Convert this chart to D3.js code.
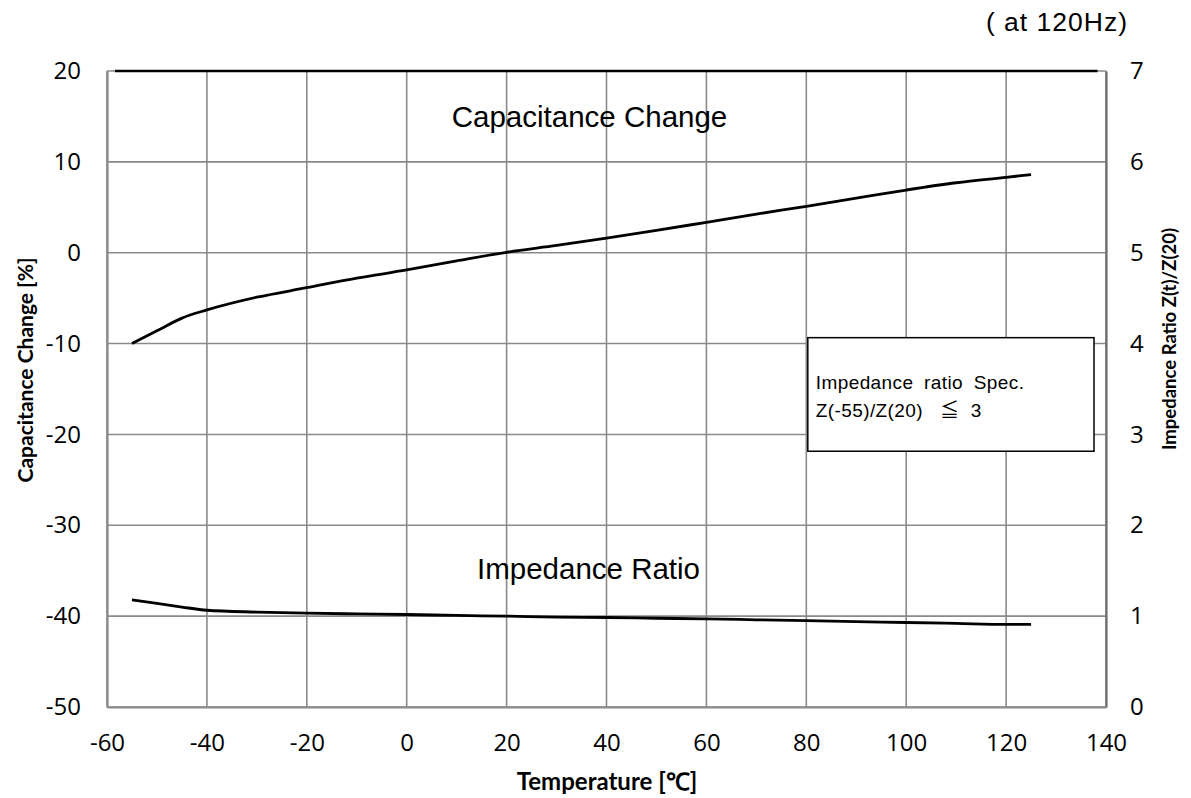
<!DOCTYPE html>
<html>
<head>
<meta charset="utf-8">
<script src="https://cdn.jsdelivr.net/npm/d3@7"></script>
<style>
  body { margin: 0; background: #fff; }
  svg { display: block; }
  .tick-label { font-family: "Open Sans", sans-serif; font-size: 24px; fill: #000; }
  .axis-title { font-family: Lato, "Open Sans", sans-serif; font-weight: bold; fill: #000; }
  .note { font-family: "Liberation Sans", Arial, "Noto Sans CJK JP", sans-serif; fill: #000; white-space: pre; }
</style>
</head>
<body>
<div id="chart"></div>
<script>
// Temperature characteristics - capacitance change and impedance ratio

const temps = [-55, -50, -45, -40, -30, -20, -10, 0, 10, 20, 30, 40, 50, 60, 70, 80, 90, 100, 110, 120, 125];
const capChange = [-10.0, -8.6, -7.2, -6.3, -4.9, -3.85, -2.8, -1.9, -0.9, 0.05, 0.8, 1.6, 2.45, 3.35, 4.25, 5.1, 6.0, 6.9, 7.7, 8.3, 8.6];
const impRatio = [1.18, 1.14, 1.10, 1.065, 1.045, 1.033, 1.025, 1.018, 1.008, 1.0, 0.99, 0.985, 0.977, 0.97, 0.96, 0.95, 0.94, 0.93, 0.92, 0.91, 0.91];

const xTicks = [-60, -40, -20, 0, 20, 40, 60, 80, 100, 120, 140];
const yLeftTicks = [20, 10, 0, -10, -20, -30, -40, -50];
const yRightTicks = [7, 6, 5, 4, 3, 2, 1, 0];

// black top border segment (secondary axis line in the original sheet)
const topEdge = [-58.4, 138.3];

const width = 1191;
const height = 798;
const margin = { top: 71, right: 85, bottom: 91, left: 107 };
const innerWidth = width - margin.left - margin.right;
const innerHeight = height - margin.top - margin.bottom;

const svg = d3.select("#chart").append("svg")
    .attr("width", width)
    .attr("height", height);

const g = svg.append("g")
    .attr("transform", `translate(${margin.left},${margin.top})`);

const x = d3.scaleLinear().domain([-60, 140]).range([0, innerWidth]);
const yL = d3.scaleLinear().domain([-50, 20]).range([innerHeight, 0]);
const yR = d3.scaleLinear().domain([0, 7]).range([innerHeight, 0]);

const plain = d => String(d);

// grid
g.append("g")
    .selectAll("line")
    .data(xTicks)
    .join("line")
    .attr("x1", d => x(d)).attr("x2", d => x(d))
    .attr("y1", 0).attr("y2", innerHeight)
    .attr("stroke", "#8a8a8a")
    .attr("stroke-width", 1.6);

g.append("g")
    .selectAll("line")
    .data(yLeftTicks)
    .join("line")
    .attr("x1", 0).attr("x2", innerWidth)
    .attr("y1", d => yL(d)).attr("y2", d => yL(d))
    .attr("stroke", "#8a8a8a")
    .attr("stroke-width", 1.6);

// axes
function styleTicks(s) {
    s.attr("font-size", null).attr("font-family", null).attr("fill", null);
    s.selectAll(".tick text").attr("class", "tick-label").attr("fill", "#000");
}

g.append("g")
    .attr("transform", `translate(0,${innerHeight})`)
    .call(d3.axisBottom(x).tickValues(xTicks).tickSize(0).tickPadding(27).tickFormat(plain))
    .call(s => s.select(".domain").attr("stroke", "#8a8a8a").attr("stroke-width", 2.2).attr("fill", "none"))
    .call(styleTicks);

g.append("g")
    .call(d3.axisLeft(yL).tickValues(yLeftTicks).tickSize(0).tickPadding(26).tickFormat(plain))
    .call(s => s.select(".domain").attr("stroke", "#8a8a8a").attr("stroke-width", 2.2).attr("fill", "none"))
    .call(styleTicks);

g.append("g")
    .attr("transform", `translate(${innerWidth},0)`)
    .call(d3.axisRight(yR).tickValues(yRightTicks).tickSize(0).tickPadding(24).tickFormat(plain))
    .call(s => s.select(".domain").attr("stroke", "#6e6e6e").attr("stroke-width", 2.2).attr("fill", "none"))
    .call(styleTicks);

// black top edge
g.append("line")
    .attr("x1", x(topEdge[0])).attr("x2", x(topEdge[1]))
    .attr("y1", yL(20)).attr("y2", yL(20))
    .attr("stroke", "#000")
    .attr("stroke-width", 2.4);

// series
const capLine = d3.line()
    .x((d, i) => x(temps[i]))
    .y(d => yL(d))
    .curve(d3.curveMonotoneX);

const impLine = d3.line()
    .x((d, i) => x(temps[i]))
    .y(d => yR(d))
    .curve(d3.curveMonotoneX);

g.append("path")
    .datum(capChange)
    .attr("d", capLine)
    .attr("fill", "none")
    .attr("stroke", "#000")
    .attr("stroke-width", 2.8);

g.append("path")
    .datum(impRatio)
    .attr("d", impLine)
    .attr("fill", "none")
    .attr("stroke", "#000")
    .attr("stroke-width", 2.8);

// in-plot labels
g.append("text")
    .attr("class", "note")
    .attr("x", x(36.6))
    .attr("y", yL(15))
    .attr("dy", "0.35em")
    .attr("text-anchor", "middle")
    .attr("font-size", 29.5)
    .text("Capacitance Change");

g.append("text")
    .attr("class", "note")
    .attr("x", x(36.4))
    .attr("y", yL(-34.8))
    .attr("dy", "0.35em")
    .attr("text-anchor", "middle")
    .attr("font-size", 29.5)
    .text("Impedance Ratio");

// spec box
const boxX0 = x(80.3), boxX1 = x(137.6);
const boxY0 = yL(-9.35), boxY1 = yL(-21.85);
g.append("rect")
    .attr("x", boxX0).attr("y", boxY0)
    .attr("width", boxX1 - boxX0).attr("height", boxY1 - boxY0)
    .attr("fill", "#fff")
    .attr("stroke", "#000")
    .attr("stroke-width", 1.5);

g.append("text")
    .attr("class", "note")
    .attr("x", boxX0 + 8)
    .attr("y", boxY0 + 51)
    .attr("font-size", 19)
    .attr("letter-spacing", 0.4)
    .attr("word-spacing", 5)
    .text("Impedance ratio Spec.");

g.append("text")
    .attr("class", "note")
    .attr("x", boxX0 + 8)
    .attr("y", boxY0 + 79)
    .attr("font-size", 19)
    .attr("letter-spacing", 0.4)
    .text("Z(-55)/Z(20)   \u2266  3");

// frequency note
svg.append("text")
    .attr("class", "note")
    .attr("x", 1128)
    .attr("y", 31)
    .attr("text-anchor", "end")
    .attr("font-size", 26.5)
    .attr("letter-spacing", 1)
    .text("( at 120Hz)");

// axis titles
svg.append("text")
    .attr("class", "axis-title")
    .attr("x", 607)
    .attr("y", 790)
    .attr("text-anchor", "middle")
    .attr("font-size", 24)
    .text("Temperature [\u2103]");

svg.append("text")
    .attr("class", "axis-title")
    .attr("transform", "translate(26,370) rotate(-90)")
    .attr("dy", "0.35em")
    .attr("text-anchor", "middle")
    .attr("font-size", 21)
    .text("Capacitance Change [%]");

svg.append("text")
    .attr("class", "axis-title")
    .attr("transform", "translate(1170,339) rotate(-90)")
    .attr("dy", "0.35em")
    .attr("text-anchor", "middle")
    .attr("font-size", 18.5)
    .text("Impedance Ratio Z(t)/Z(20)");
</script>
</body>
</html>
